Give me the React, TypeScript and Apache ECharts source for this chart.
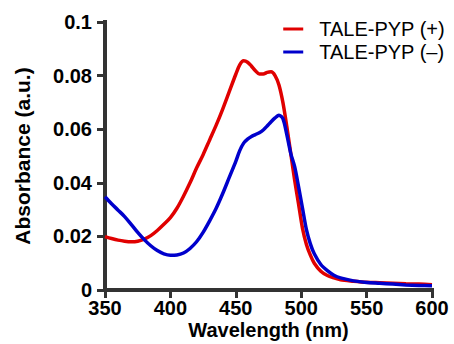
import React, { useEffect, useRef } from "react";
import * as echarts from "echarts";

const wavelengthsPlus = [350,355,360,365,370,375,380,385,390,395,400,405,410,415,420,425,430,435,440,445,450,453,456,459,462,465,468,471,474,477,480,483,486,489,492,495,498,501,504,507,510,515,520,525,530,540,550,560,570,580,590,600];
const absPlus = [0.0199,0.0192,0.0186,0.0182,0.0180,0.0182,0.0190,0.0203,0.0222,0.0245,0.0270,0.0305,0.0350,0.0400,0.0455,0.0505,0.0560,0.0615,0.0675,0.0740,0.0805,0.0840,0.0855,0.0850,0.0835,0.0818,0.0806,0.0806,0.0812,0.0814,0.0800,0.0765,0.0700,0.0610,0.0510,0.0410,0.0320,0.0230,0.0170,0.0130,0.0100,0.0070,0.0054,0.0045,0.0038,0.0033,0.0029,0.0027,0.0025,0.0023,0.0022,0.0020];

const wavelengthsMinus = [350,355,360,365,370,375,380,385,390,395,400,405,410,415,420,425,430,435,440,445,450,453,456,459,462,465,468,471,474,477,480,483,486,489,492,495,498,501,504,507,510,515,520,525,530,540,550,560,570,580,590,600];
const absMinus = [0.0348,0.0322,0.0298,0.0274,0.0245,0.0215,0.0188,0.0165,0.0147,0.0135,0.0130,0.0131,0.0138,0.0155,0.0180,0.0215,0.0258,0.0305,0.0360,0.0420,0.0480,0.0520,0.0548,0.0563,0.0573,0.0580,0.0587,0.0597,0.0612,0.0628,0.0642,0.0652,0.0640,0.0580,0.0510,0.0460,0.0385,0.0305,0.0225,0.0172,0.0135,0.0095,0.0072,0.0055,0.0045,0.0034,0.0028,0.0025,0.0022,0.0019,0.0017,0.0016];

const seriesNames = ["TALE-PYP (+)", "TALE-PYP (\u2013)"];
const seriesColors = ["#E00000", "#0000CC"];

export default function App() {
  const ref = useRef<HTMLDivElement>(null);
  useEffect(() => {
    if (!ref.current) return;
    const chart = echarts.init(ref.current, null, { renderer: "svg" });
    const font = "Liberation Sans, Arial, Helvetica, sans-serif";
    const axisLine = { show: true, onZero: false, lineStyle: { color: "#333333", width: 4, cap: "square" } };
    const axisTick = { show: true, inside: false, length: 8, lineStyle: { color: "#333333", width: 3 } };
    chart.setOption({
      animation: false,
      backgroundColor: "#fff",
      grid: { left: 105, right: 22, top: 22, bottom: 54, containLabel: false, outerBoundsMode: "none" },
      legend: {
        orient: "vertical",
        right: 4,
        top: 14,
        itemWidth: 20,
        itemHeight: 3,
        itemGap: 3,
        icon: "rect",
        textStyle: { fontFamily: font, fontSize: 20, color: "#000", padding: [0, 0, 0, 11] },
        data: seriesNames,
      },
      xAxis: [{
        type: "value",
        min: 350,
        max: 600,
        interval: 50,
        name: "Wavelength (nm)",
        nameLocation: "middle",
        nameGap: 30,
        nameMoveOverlap: false,
        nameTextStyle: { fontFamily: font, fontSize: 20, fontWeight: "bold", color: "#000" },
        axisLine,
        axisTick,
        splitLine: { show: false },
        axisLabel: { fontFamily: font, fontSize: 20, fontWeight: "bold", color: "#000", margin: 8 },
      }],
      yAxis: [{
        type: "value",
        min: 0,
        max: 0.1,
        interval: 0.02,
        name: "Absorbance (a.u.)",
        nameLocation: "middle",
        nameGap: 72,
        nameMoveOverlap: false,
        nameTextStyle: { fontFamily: font, fontSize: 21, fontWeight: "bold", color: "#000" },
        axisLine,
        axisTick,
        splitLine: { show: false },
        axisLabel: {
          fontFamily: font,
          fontSize: 20,
          fontWeight: "bold",
          color: "#000",
          margin: 13,
          formatter: (v: number) => String(+v.toFixed(2)),
        },
      }],
      series: [
        {
          name: seriesNames[0],
          type: "line",
          data: wavelengthsPlus.map((w, i) => [w, absPlus[i]]),
          showSymbol: false,
          smooth: 0.3,
          color: seriesColors[0],
          lineStyle: { color: seriesColors[0], width: 3.5 },
        },
        {
          name: seriesNames[1],
          type: "line",
          data: wavelengthsMinus.map((w, i) => [w, absMinus[i]]),
          showSymbol: false,
          smooth: 0.3,
          color: seriesColors[1],
          lineStyle: { color: seriesColors[1], width: 3.5 },
        },
      ],
    });
    return () => chart.dispose();
  }, []);
  return <div ref={ref} style={{ width: 454, height: 344, position: "absolute", left: 0, top: 0 }} />;
}
